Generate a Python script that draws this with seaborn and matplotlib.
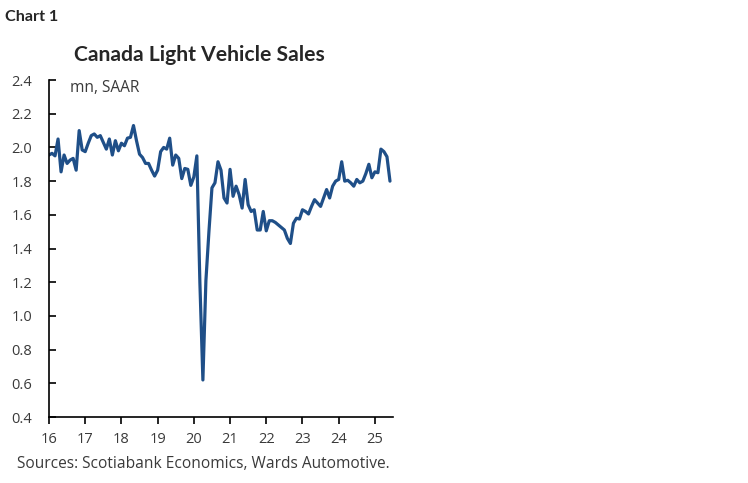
import numpy as np
import pandas as pd
import matplotlib
matplotlib.use('Agg')
import matplotlib.pyplot as plt
import seaborn as sns

# ============================
# Data (mn units, SAAR, monthly from Jan 2016)
# ============================
sales_2016 = [1.955, 1.965, 1.95, 2.05, 1.855, 1.955, 1.905, 1.925, 1.935, 1.865, 2.10, 1.985]
sales_2017 = [1.975, 2.025, 2.07, 2.08, 2.06, 2.07, 2.03, 1.99, 2.05, 1.955, 2.04, 1.98]
sales_2018 = [2.025, 2.01, 2.055, 2.06, 2.13, 2.04, 1.96, 1.94, 1.905, 1.905, 1.865, 1.83]
sales_2019 = [1.865, 1.975, 2.0, 1.99, 2.055, 1.895, 1.955, 1.935, 1.815, 1.875, 1.87, 1.775]
sales_2020 = [1.825, 1.95, 1.2, 0.62, 1.21, 1.5, 1.76, 1.79, 1.915, 1.865, 1.70, 1.67]
sales_2021 = [1.87, 1.71, 1.77, 1.72, 1.64, 1.81, 1.66, 1.62, 1.63, 1.51, 1.51, 1.62]
sales_2022 = [1.505, 1.565, 1.565, 1.555, 1.54, 1.525, 1.51, 1.46, 1.43, 1.55, 1.58, 1.575]
sales_2023 = [1.63, 1.62, 1.605, 1.65, 1.69, 1.67, 1.65, 1.70, 1.75, 1.70, 1.77, 1.80]
sales_2024 = [1.81, 1.915, 1.80, 1.805, 1.79, 1.77, 1.81, 1.79, 1.80, 1.845, 1.90, 1.82]
sales_2025 = [1.855, 1.85, 1.99, 1.975, 1.945, 1.80]

year_ticks = list(range(2016, 2026))
year_labels = ['16', '17', '18', '19', '20', '21', '22', '23', '24', '25']
y_ticks = [0.4, 0.6, 0.8, 1.0, 1.2, 1.4, 1.6, 1.8, 2.0, 2.2, 2.4]

sales = (sales_2016 + sales_2017 + sales_2018 + sales_2019 + sales_2020
         + sales_2021 + sales_2022 + sales_2023 + sales_2024 + sales_2025)
df = pd.DataFrame({'t': 2016 + np.arange(len(sales)) / 12.0, 'sales': sales})

# ============================
# Plot
# ============================
sns.set_style('white')
plt.rcParams['font.family'] = ['Open Sans', 'DejaVu Sans']

fig = plt.figure(figsize=(7.48, 4.83), dpi=100)
ax = fig.add_axes([0.0655, 0.1366, 0.4599, 0.6977])

sns.lineplot(data=df, x='t', y='sales', ax=ax, color='#1f4f88', linewidth=2.3)

ax.set_xlim(2016, 2025.5)
ax.set_ylim(0.4, 2.4)
ax.set_xticks(year_ticks)
ax.set_xticklabels(year_labels)
ax.set_yticks(y_ticks)
ax.set_yticklabels([f'{v:.1f}' for v in y_ticks])
ax.set_xlabel('')
ax.set_ylabel('')

for s in ['top', 'right']:
    ax.spines[s].set_visible(False)
for s in ['left', 'bottom']:
    ax.spines[s].set_color('black')
    ax.spines[s].set_linewidth(1.2)

ax.tick_params(axis='x', direction='out', length=5, width=1.2, color='black',
               labelsize=10.5, labelcolor='#3a3a3a', pad=6)
ax.tick_params(axis='y', direction='in', length=5, width=1.2, color='black',
               labelsize=10.5, labelcolor='#3a3a3a', pad=12)
ax.tick_params(left=True, bottom=True)

ax.text(0.06, 1.0, 'mn, SAAR', transform=ax.transAxes, fontsize=11.2,
        color='#3a3a3a', va='top', ha='left')

fig.text(0.007, 0.965, 'Chart 1', fontsize=11.6, fontweight='bold', family=['Lato', 'DejaVu Sans'],
         va='center', ha='left')
fig.text(0.266, 0.887, 'Canada Light Vehicle Sales', fontsize=15.2, fontweight='bold',
         family=['Lato', 'DejaVu Sans'], va='center', ha='center')
fig.text(0.023, 0.04, 'Sources: Scotiabank Economics, Wards Automotive.', fontsize=11.2,
         color='#3a3a3a', va='center', ha='left')

fig.savefig('out.png', dpi=100)
